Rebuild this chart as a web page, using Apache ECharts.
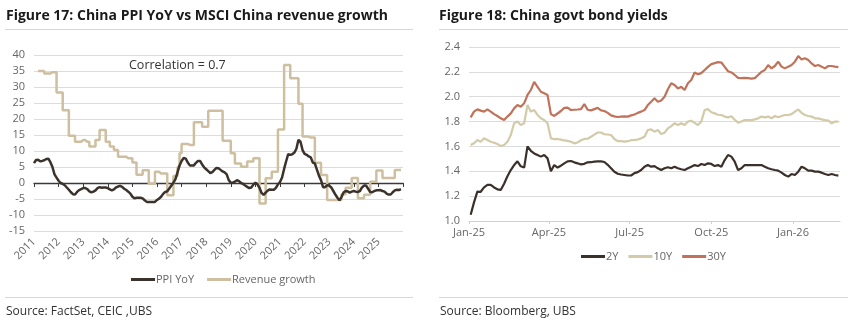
<!DOCTYPE html>
<html><head><meta charset="utf-8">
<script src="https://cdn.jsdelivr.net/npm/echarts@6/dist/echarts.min.js"></script>
<style>html,body{margin:0;padding:0;background:#fff}#c{width:855px;height:326px}</style>
</head><body><div id="c"></div>
<script>
// ---------- Figure 17 data (monthly, Jan 2011 .. Dec 2025) ----------
const yearStart = 2011;
const yearEnd = 2026;
const yearLabels = ['2011','2012','2013','2014','2015','2016','2017','2018','2019','2020','2021','2022','2023','2024','2025'];
const ppiYoY = [
  6.2, 7.2, 7.3, 6.8, 6.9, 7.1, 7.5, 7.6, 6.5, 5.0, 2.7, 1.7,
  0.7, 0.0, -0.3, -0.7, -1.4, -2.1, -2.9, -3.5, -3.6, -2.8, -2.2, -1.9,
  -1.6, -1.6, -1.9, -2.6, -2.9, -2.7, -2.3, -1.6, -1.3, -1.5, -1.4, -1.4,
  -1.6, -2.0, -2.3, -2.0, -1.4, -1.1, -0.9, -1.2, -1.8, -2.2, -2.7, -3.3,
  -4.3, -4.8, -4.6, -4.6, -4.6, -4.8, -5.4, -5.9, -5.9, -5.9, -5.9, -5.9,
  -5.3, -4.9, -4.3, -3.4, -2.8, -2.6, -1.7, -0.8, 0.1, 1.2, 3.3, 5.5,
  6.9, 7.8, 7.6, 6.4, 5.5, 5.5, 5.5, 6.3, 6.9, 6.9, 5.8, 4.9,
  4.3, 3.7, 3.1, 3.4, 4.1, 4.7, 4.6, 4.1, 3.6, 3.3, 2.7, 0.9,
  0.1, 0.1, 0.4, 0.9, 0.6, 0.0, -0.3, -0.8, -1.2, -1.6, -1.4, -0.5,
  0.1, -0.4, -1.5, -3.1, -3.7, -3.0, -2.4, -2.0, -2.1, -2.1, -1.5, -0.4,
  0.3, 1.7, 4.4, 6.8, 9.0, 8.8, 9.0, 9.5, 10.7, 13.5, 12.9, 10.3,
  9.1, 8.8, 8.3, 8.0, 6.4, 6.1, 4.2, 2.3, 0.9, -1.3, -1.3, -0.7,
  -0.8, -1.4, -2.5, -3.6, -4.6, -5.4, -4.4, -3.0, -2.5, -2.6, -3.0, -2.7,
  -2.5, -2.7, -2.8, -2.5, -1.4, -0.8, -0.8, -1.8, -2.8, -2.9, -2.5, -2.3,
  -2.3, -2.2, -2.5, -2.7, -3.3, -3.6, -3.6, -2.9, -2.3, -2.1, -2.2, -1.9
];
const revenueGrowth = [
  null, null, 35, 35, 35, 34.2, 34.2, 34.2, 34.6, 34.6, 34.6, 28.3,
  28.3, 28.3, 22.7, 22.7, 22.7, 14.8, 14.8, 14.8, 12.9, 12.9, 12.9, 13.4,
  13.4, 12.9, 12.9, 11.4, 11.4, 11.4, 13.4, 13.4, 16.6, 16.6, 16.6, 12.9,
  12.9, 11.4, 11.4, 10.3, 10.3, 8.2, 8.2, 8.2, 8.2, 7.7, 7.7, 7.7,
  6.4, 6.4, 2.6, 2.6, 2.6, 4.0, 4.0, 4.0, -0.2, -0.2, -0.2, 3.5,
  3.5, 3.0, 3.0, 3.0, 3.0, -3.8, -3.8, -3.8, 2.2, 2.2, 5, 9.3,
  12.2, 12.2, 12.2, 11.9, 11.9, 11.9, 19, 19, 19, 19, 17.6, 17.6,
  17.6, 22.6, 22.6, 22.6, 22.6, 22.6, 22.6, 22.6, 13.2, 13.2, 13.2, 13.2,
  9.3, 9.3, 6.1, 6.1, 6.1, 5.1, 5.1, 5.1, 6.7, 6.7, 6.7, 7.7,
  7.7, 7.7, -6.4, -6.4, -6.4, 1.5, 1.5, 1.5, 3.5, 3.5, 3.5, 16.7,
  16.7, 16.7, 36.9, 36.9, 36.9, 32.7, 32.7, 32.7, 32.7, 24.8, 24.8, 14.5,
  14.5, 14.5, 14.2, 14.2, 14.2, 6.3, 6.3, 6.3, 2.5, 2.5, 2.5, -5.3,
  -5.3, -5.3, -5.3, -5.3, -5.3, -5.3, -3.5, -3.5, -1.5, -1.5, -1.5, 1.6,
  1.6, 1.6, -4.8, -4.8, -4.8, -3.7, -3.7, -3.7, 0.4, 0.4, 0.4, 3.9,
  3.9, 3.9, 1.6, 1.6, 1.6, 1.6, 1.6, 1.6, 4.1, 4.1, 4.1, 4.1
];

// ---------- Figure 18 data (samples every ~3.77 days from Jan 2025) ----------
const yieldTickDays = [0, 90, 181, 273, 365];
const yieldTickLabels = ['Jan-25', 'Apr-25', 'Jul-25', 'Oct-25', 'Jan-26'];
const yieldFirstDay = 1.88;
const yieldStepDays = 3.766;
const yield2Y = [
  1.05,1.15,1.236,1.235,1.27,1.29,1.29,1.27,1.255,1.25,1.3,1.36,1.41,1.45,1.48,1.44,1.43,1.6,1.565,1.544,1.531,1.518,1.531,1.504,1.40,1.45,1.43,1.445,1.464,1.48,1.483,1.472,1.464,1.455,1.46,1.472,1.473,1.478,1.48,1.48,1.475,1.452,1.425,1.396,1.38,1.374,1.37,1.366,1.366,1.385,1.393,
  1.41,1.437,1.45,1.437,1.442,1.424,1.41,1.424,1.432,1.424,1.437,1.424,1.416,1.41,1.424,1.437,1.45,1.442,1.459,1.45,1.464,1.459,1.442,1.45,1.437,1.49,1.531,1.518,1.477,1.41,1.424,1.45,1.45,1.45,1.45,1.45,1.45,1.437,1.424,1.416,1.41,1.405,1.389,1.37,1.357,1.378,1.37,1.397,1.437,1.424,1.405,1.405,1.397,1.397,1.389,1.378,1.37,1.378,1.37,1.365
];
const yield10Y = [
  1.611,1.625,1.652,1.638,1.665,1.652,1.638,1.63,1.62,1.603,1.611,1.638,1.692,1.786,1.8,1.772,1.786,1.933,1.88,1.893,1.853,1.826,1.812,1.786,1.665,1.658,1.66,1.655,1.648,1.645,1.638,1.625,1.632,1.65,1.66,1.662,1.678,1.695,1.712,1.712,1.698,1.696,1.692,1.66,1.642,1.642,1.638,1.642,1.65,1.652,1.655,
  1.665,1.678,1.732,1.737,1.719,1.732,1.7,1.71,1.745,1.764,1.786,1.772,1.786,1.772,1.8,1.807,1.79,1.772,1.8,1.893,1.9,1.875,1.866,1.855,1.853,1.84,1.834,1.843,1.815,1.791,1.8,1.812,1.812,1.812,1.818,1.826,1.84,1.834,1.84,1.826,1.845,1.834,1.845,1.853,1.853,1.86,1.88,1.898,1.87,1.853,1.845,1.84,1.826,1.826,1.818,1.812,1.807,1.786,1.8,1.8
];
const yield30Y = [
  1.834,1.88,1.898,1.888,1.88,1.898,1.88,1.86,1.845,1.826,1.812,1.84,1.866,1.906,1.933,1.92,1.947,2.014,2.054,2.12,2.08,2.04,2.027,2.014,1.86,1.845,1.865,1.885,1.91,1.912,1.893,1.895,1.897,1.9,1.94,1.895,1.89,1.9,1.91,1.89,1.885,1.87,1.85,1.842,1.837,1.84,1.842,1.84,1.85,1.857,1.87,
  1.88,1.893,1.933,1.96,1.987,1.96,1.97,2.0,2.06,2.108,2.094,2.067,2.08,2.054,2.108,2.134,2.195,2.18,2.19,2.215,2.24,2.262,2.27,2.278,2.275,2.24,2.205,2.195,2.175,2.152,2.15,2.152,2.15,2.145,2.15,2.175,2.2,2.215,2.255,2.228,2.247,2.282,2.242,2.228,2.242,2.255,2.282,2.327,2.3,2.309,2.295,2.268,2.247,2.255,2.242,2.228,2.247,2.247,2.242,2.238
];

// ---------- build ----------
const FONT = 'Open Sans';
const monthly = arr => arr.map((v, i) => [yearStart + i / 12, v]);
const yieldPts = arr => arr.map((v, i) => [yieldFirstDay + i * yieldStepDays, v]);
const C_PPI = '#3b322c', C_REV = '#cdbf9f', C_2Y = '#3b302a', C_10Y = '#d2caa8', C_30Y = '#c0735a';
const gridLine = { show: true, lineStyle: { color: '#dcdcdc', width: 1 } };
const lbl = { color: '#666', fontSize: 11, fontFamily: FONT };

const chart = echarts.init(document.getElementById('c'), null, { renderer: 'canvas' });
chart.setOption({
  animation: false,
  backgroundColor: '#fff',
  grid: [
    { left: 34, top: 55, width: 369, height: 176 },
    { left: 469, top: 47, width: 371, height: 174 }
  ],
  xAxis: [
    { gridIndex: 0, type: 'value', min: yearStart, max: yearEnd, interval: 1, position: 'bottom',
      axisLine: { show: false, onZero: false }, axisTick: { show: false }, splitLine: { show: false },
      axisLabel: Object.assign({}, lbl, { rotate: 45, margin: 9,
        formatter: v => yearLabels[Math.round(v - yearStart)] || '' }) },
    { gridIndex: 0, type: 'value', min: yearStart, max: yearEnd, interval: 1, position: 'bottom',
      axisLine: { show: true, onZero: true, lineStyle: { color: '#3a3a3a', width: 1.3 } },
      axisTick: { show: true, length: 4, lineStyle: { color: '#3a3a3a' } },
      axisLabel: { show: false }, splitLine: { show: false } },
    { gridIndex: 1, type: 'value', min: 0, max: 418,
      axisLine: { show: true, lineStyle: { color: '#d0d0d0', width: 1 } },
      axisTick: { show: true, length: 3, customValues: yieldTickDays, lineStyle: { color: '#d0d0d0' } },
      splitLine: { show: false },
      axisLabel: Object.assign({}, lbl, { margin: 6, customValues: yieldTickDays,
        formatter: v => yieldTickLabels[yieldTickDays.indexOf(v)] || '' }) }
  ],
  yAxis: [
    { gridIndex: 0, type: 'value', min: -15, max: 40, interval: 5,
      axisLine: { show: false }, axisTick: { show: false }, splitLine: gridLine,
      axisLabel: Object.assign({}, lbl, { margin: 9 }) },
    { gridIndex: 1, type: 'value', min: 1.0, max: 2.4, interval: 0.2,
      axisLine: { show: false }, axisTick: { show: false }, splitLine: gridLine,
      axisLabel: Object.assign({}, lbl, { margin: 9, formatter: v => v.toFixed(1) }) }
  ],
  legend: [
    { left: 126, top: 269, itemWidth: 24, itemHeight: 3, itemGap: 13, icon: 'rect',
      textStyle: { color: '#666', fontSize: 11, fontFamily: FONT, padding: [0, 0, 0, -4] },
      data: ['PPI YoY', 'Revenue growth'] },
    { left: 576, top: 246, itemWidth: 24, itemHeight: 3, itemGap: 10, icon: 'rect',
      textStyle: { color: '#666', fontSize: 11, fontFamily: FONT, padding: [0, 0, 0, -4] },
      data: ['2Y', '10Y', '30Y'] }
  ],
  series: [
    { name: 'Revenue growth', type: 'line', xAxisIndex: 0, yAxisIndex: 0, step: 'end', showSymbol: false,
      connectNulls: false, lineStyle: { color: C_REV, width: 2.5 }, itemStyle: { color: C_REV },
      data: monthly(revenueGrowth), z: 2 },
    { name: 'PPI YoY', type: 'line', xAxisIndex: 0, yAxisIndex: 0, showSymbol: false,
      lineStyle: { color: C_PPI, width: 2.5 }, itemStyle: { color: C_PPI },
      data: monthly(ppiYoY), z: 3 },
    { name: '2Y', type: 'line', xAxisIndex: 2, yAxisIndex: 1, showSymbol: false,
      lineStyle: { color: C_2Y, width: 2.2 }, itemStyle: { color: C_2Y }, data: yieldPts(yield2Y) },
    { name: '10Y', type: 'line', xAxisIndex: 2, yAxisIndex: 1, showSymbol: false,
      lineStyle: { color: C_10Y, width: 2.2 }, itemStyle: { color: C_10Y }, data: yieldPts(yield10Y) },
    { name: '30Y', type: 'line', xAxisIndex: 2, yAxisIndex: 1, showSymbol: false,
      lineStyle: { color: C_30Y, width: 2.2 }, itemStyle: { color: C_30Y }, data: yieldPts(yield30Y) }
  ],
  graphic: [
    { type: 'text', left: 6, top: 9, style: { text: 'Figure 17: China PPI YoY vs MSCI China revenue growth',
      fill: '#1a1a1a', font: 'bold 14px "Open Sans"' } },
    { type: 'text', left: 439, top: 9, style: { text: 'Figure 18: China govt bond yields',
      fill: '#1a1a1a', font: 'bold 14px "Open Sans"' } },
    { type: 'line', shape: { x1: 5, y1: 29.5, x2: 413, y2: 29.5 }, style: { stroke: '#d8d8d8', lineWidth: 1 } },
    { type: 'line', shape: { x1: 439, y1: 29.5, x2: 848, y2: 29.5 }, style: { stroke: '#d8d8d8', lineWidth: 1 } },
    { type: 'line', shape: { x1: 5, y1: 297.5, x2: 413, y2: 297.5 }, style: { stroke: '#d8d8d8', lineWidth: 1 } },
    { type: 'line', shape: { x1: 439, y1: 297.5, x2: 848, y2: 297.5 }, style: { stroke: '#d8d8d8', lineWidth: 1 } },
    { type: 'text', left: 6, top: 306, style: { text: 'Source: FactSet, CEIC ,UBS', fill: '#333', font: '12px "Open Sans"' } },
    { type: 'text', left: 440, top: 306, style: { text: 'Source: Bloomberg, UBS', fill: '#333', font: '12px "Open Sans"' } },
    { type: 'text', left: 129, top: 59, style: { text: 'Correlation = 0.7', fill: '#333', font: '12.5px "Open Sans"' } }
  ]
});
</script></body></html>
